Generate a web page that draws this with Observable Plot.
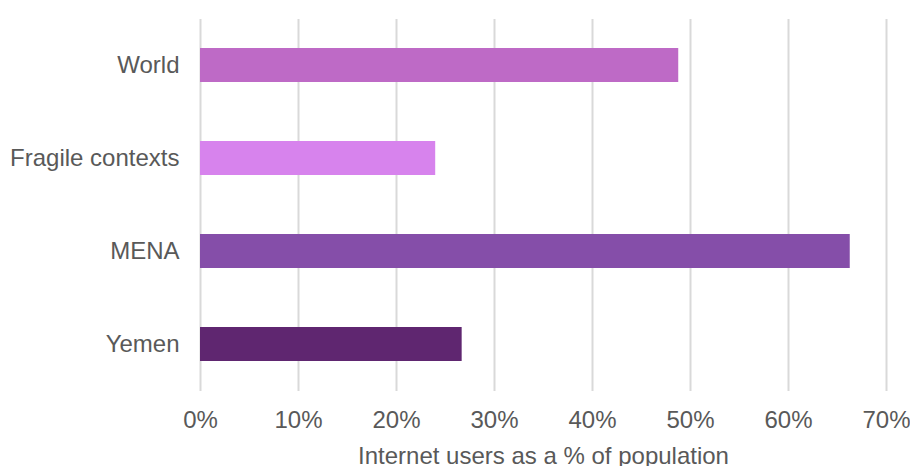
<!DOCTYPE html>
<html>
<head>
<meta charset="utf-8">
<script src="https://cdn.jsdelivr.net/npm/d3@7"></script>
<script src="https://cdn.jsdelivr.net/npm/@observablehq/plot@0.6"></script>
<style>
  html, body { margin: 0; padding: 0; background: #fff; }
  #chart svg { display: block; }
</style>
</head>
<body>
<div id="chart"></div>
<script>
const categories = ["World", "Fragile contexts", "MENA", "Yemen"];
const values = [48.8, 24.0, 66.3, 26.7];
const tickValues = [0, 10, 20, 30, 40, 50, 60, 70];
const xLabel = "Internet users as a % of population";

const data = categories.map((c, i) => ({category: c, value: values[i]}));

const chart = Plot.plot({
  width: 910,
  height: 466,
  marginLeft: 200,
  marginRight: 24,
  marginTop: 19,
  marginBottom: 75,
  style: {fontFamily: "'Liberation Sans', Arial, sans-serif", fontSize: "24px", color: "#595959", background: "#fff"},
  x: {domain: [0, 70], ticks: tickValues, tickFormat: d => d + "%"},
  y: {domain: categories, paddingInner: 0.634, paddingOuter: 0.317},
  color: {domain: categories, range: ["#be6ac6", "#d783ed", "#854ea9", "#5f2670"]},
  marks: [
    Plot.ruleX(tickValues, {stroke: "#d9d9d9", strokeWidth: 2}),
    Plot.barX(data, {x: "value", y: "category", fill: "category"}),
    Plot.axisX({ticks: tickValues, tickFormat: d => d + "%", tickSize: 0, tickPadding: 19, label: null, fontSize: 24, fill: "#595959"}),
    Plot.axisY({tickSize: 0, tickPadding: 21, label: null, fontSize: 24, fill: "#595959"}),
    Plot.text([xLabel], {frameAnchor: "bottom", dy: 72, fontSize: 24, fill: "#595959"})
  ]
});
document.getElementById("chart").appendChild(chart);
</script>
</body>
</html>
